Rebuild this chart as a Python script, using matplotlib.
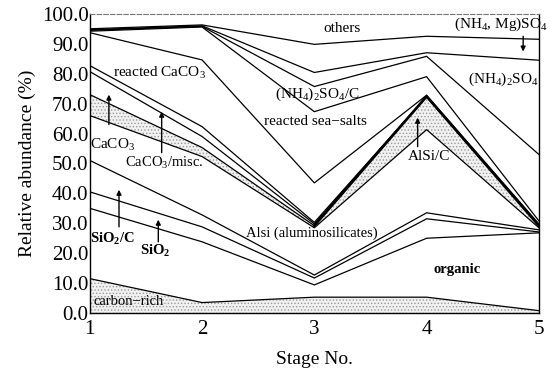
import numpy as np
import matplotlib
matplotlib.use("Agg")
import matplotlib.pyplot as plt

plt.rcParams['font.family'] = ['Liberation Serif', 'DejaVu Serif']
plt.rcParams['mathtext.fontset'] = 'custom'
plt.rcParams['mathtext.rm'] = 'Liberation Serif'
plt.rcParams['mathtext.it'] = 'Liberation Serif'
plt.rcParams['mathtext.bf'] = 'Liberation Serif:bold'
plt.rcParams['hatch.color'] = '#8a8a8a'
plt.rcParams['hatch.linewidth'] = 0.6

stages = [1, 2, 3, 4, 5]

# relative abundance (%) of each particle class, bottom to top
carbon_rich   = [11.5, 3.5, 5.3, 5.3, 0.8]
organic       = [23.5, 20.3, 4.1, 19.7, 26.0]
sio2          = [5.5, 5.0, 2.3, 6.5, 0.3]
sio2_c        = [10.5, 4.0, 1.0, 2.0, 0.7]
alsi          = [15.0, 19.5, 15.8, 27.8, 0.7]
alsi_c        = [7.0, 3.0, 0.7, 11.1, 0.7]
caco3         = [7.7, 3.7, 0.6, 0.0, 0.0]
caco3_misc    = [2.0, 3.3, 0.5, 0.0, 0.0]
reacted_caco3 = [11.0, 22.3, 13.2, 0.4, 0.6]
reacted_salts = [0.5, 11.0, 23.8, 6.2, 1.0]
nh4_so4_c     = [0.3, 0.2, 8.4, 6.8, 22.2]
nh4_so4       = [0.2, 0.2, 4.7, 1.2, 31.5]
nh4_mg_so4    = [0.3, 0.3, 9.4, 5.5, 7.0]
others        = [5.0, 3.7, 10.2, 7.5, 8.5]

layers = [carbon_rich, organic, sio2, sio2_c, alsi, alsi_c, caco3, caco3_misc,
          reacted_caco3, reacted_salts, nh4_so4_c, nh4_so4, nh4_mg_so4, others]
tops = np.cumsum(np.array(layers, dtype=float), axis=0)
bottoms = np.vstack([np.zeros(len(stages)), tops[:-1]])

fig = plt.figure(figsize=(5.51, 3.74), dpi=100)
ax = fig.add_axes([0.163, 0.163, 0.815, 0.800])

# dotted shading for the carbon-rich and AlSi/C classes
for idx in (0, 5):
    ax.fill_between(stages, bottoms[idx], tops[idx], facecolor='#f1f1f1',
                    hatch='.....', edgecolor='#9a9a9a', linewidth=0)

for i in range(len(layers) - 1):
    ax.plot(stages, tops[i], color='black', lw=0.9, solid_joinstyle='miter')
# heavier upper edge of the AlSi/C band from stage 3 on
ax.plot(stages[2:], tops[5][2:], color='black', lw=1.9, solid_joinstyle='miter')

ax.set_xlim(1, 5)
ax.set_ylim(0, 100)
ax.set_xticks(stages)
ax.set_yticks(np.arange(0, 101, 10))
ax.set_yticklabels([f"{v:.1f}" for v in np.arange(0, 101, 10)])
ax.tick_params(axis='both', length=0, labelsize=15)
ax.tick_params(axis='y', pad=1)
ax.tick_params(axis='x', pad=5)
ax.set_xlabel("Stage No.", fontsize=14, labelpad=9)
ax.set_ylabel("Relative abundance (%)", fontsize=14, labelpad=4)

for s in ('left', 'bottom', 'right'):
    ax.spines[s].set_linewidth(1.0)
ax.spines['top'].set_linestyle((0, (4, 2)))
ax.spines['top'].set_color('#777777')
ax.spines['top'].set_linewidth(0.8)

fs = 11
def label(x, y, txt, **kw):
    ax.text(x, y, txt, fontsize=kw.pop('fontsize', fs), ha='center', va='center',
            clip_on=False, **kw)

def arrow(x, y0, y1):
    ax.annotate("", xy=(x, y1), xytext=(x, y0),
                arrowprops=dict(arrowstyle='-|>', color='black', lw=1.0,
                                mutation_scale=7, shrinkA=0, shrinkB=0))

label(3.25, 95.1, "others")
label(4.66, 96.6, r"(NH$_4$, Mg)SO$_4$")
arrow(4.86, 92.5, 87.4)
label(4.68, 78.0, r"(NH$_4$)$_2$SO$_4$")
label(3.03, 73.0, r"(NH$_4$)$_2$SO$_4$/C")
label(3.01, 64.0, "reacted sea\u2212salts")
label(1.62, 80.4, r"reacted CaCO$_3$")
label(1.20, 56.3, r"CaCO$_3$")
arrow(1.17, 63.0, 73.0)
label(1.66, 50.3, r"CaCO$_3$/misc.", fontsize=10.5)
arrow(1.64, 53.6, 67.3)
label(4.02, 52.3, "AlSi/C")
arrow(3.92, 55.6, 65.3)
label(2.98, 26.8, "Alsi (aluminosilicates)", fontsize=10.5)
label(4.27, 14.4, "organic", fontweight='bold', fontsize=10.5)
label(1.35, 3.7, "carbon\u2212rich", fontsize=10.5)
label(1.20, 24.8, r"SiO$_\mathbf{2}$/C", fontweight='bold', fontsize=10.5)
arrow(1.26, 28.8, 41.2)
label(1.58, 20.8, r"SiO$_\mathbf{2}$", fontweight='bold', fontsize=10.5)
arrow(1.61, 23.8, 31.2)

fig.savefig("out.png", dpi=100)
